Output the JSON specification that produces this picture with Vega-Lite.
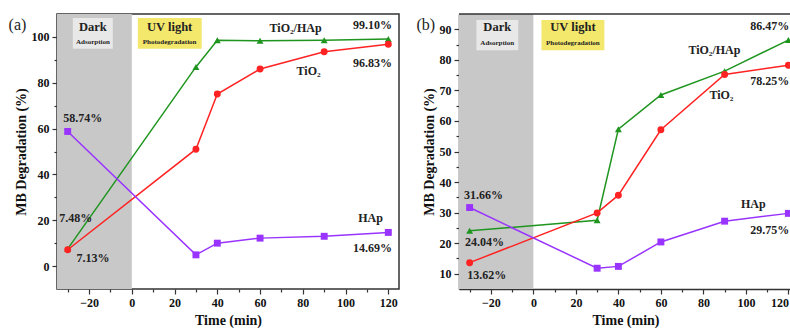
{
  "$schema": "https://vega.github.io/schema/vega-lite/v6.json",
  "padding": {"left": 7, "top": 13, "right": 0, "bottom": 0},
  "bounds": "flush",
  "spacing": 60,
  "config": {
    "view": {"stroke": "#333", "strokeWidth": 1.5},
    "axis": {"grid": false, "domain": false, "labelFont": "Liberation Serif", "labelFontWeight": "bold", "labelFontSize": 12, "labelColor": "#111", "titleFont": "Liberation Serif", "titleFontSize": 14, "titleFontWeight": "bold", "titleColor": "#111", "tickColor": "#333", "tickWidth": 1.2, "labelPadding": 3, "domainColor": "#333", "domainWidth": 1.5},
    "text": {"font": "Liberation Serif"}
  },
  "datasets": {
    "a": [
      {"t": -30, "v": 7.48, "s": "TiO2/HAp"}, {"t": 30, "v": 86.9, "s": "TiO2/HAp"}, {"t": 40, "v": 98.5, "s": "TiO2/HAp"}, {"t": 60, "v": 98.3, "s": "TiO2/HAp"}, {"t": 90, "v": 98.5, "s": "TiO2/HAp"}, {"t": 120, "v": 99.1, "s": "TiO2/HAp"},
      {"t": -30, "v": 7.13, "s": "TiO2"}, {"t": 30, "v": 51.0, "s": "TiO2"}, {"t": 40, "v": 75.1, "s": "TiO2"}, {"t": 60, "v": 86.0, "s": "TiO2"}, {"t": 90, "v": 93.5, "s": "TiO2"}, {"t": 120, "v": 96.83, "s": "TiO2"},
      {"t": -30, "v": 58.74, "s": "HAp"}, {"t": 30, "v": 4.9, "s": "HAp"}, {"t": 40, "v": 10.0, "s": "HAp"}, {"t": 60, "v": 12.2, "s": "HAp"}, {"t": 90, "v": 13.0, "s": "HAp"}, {"t": 120, "v": 14.69, "s": "HAp"}
    ],
    "b": [
      {"t": -30, "v": 24.04, "s": "TiO2/HAp"}, {"t": 30, "v": 27.5, "s": "TiO2/HAp"}, {"t": 40, "v": 57.3, "s": "TiO2/HAp"}, {"t": 60, "v": 68.5, "s": "TiO2/HAp"}, {"t": 90, "v": 76.3, "s": "TiO2/HAp"}, {"t": 120, "v": 86.47, "s": "TiO2/HAp"},
      {"t": -30, "v": 13.62, "s": "TiO2"}, {"t": 30, "v": 29.9, "s": "TiO2"}, {"t": 40, "v": 35.7, "s": "TiO2"}, {"t": 60, "v": 57.1, "s": "TiO2"}, {"t": 90, "v": 75.2, "s": "TiO2"}, {"t": 120, "v": 78.25, "s": "TiO2"},
      {"t": -30, "v": 31.66, "s": "HAp"}, {"t": 30, "v": 11.8, "s": "HAp"}, {"t": 40, "v": 12.4, "s": "HAp"}, {"t": 60, "v": 20.4, "s": "HAp"}, {"t": 90, "v": 27.2, "s": "HAp"}, {"t": 120, "v": 29.75, "s": "HAp"}
    ],
    "a_dark": [{"x1": -35, "x2": 0, "y1": -10, "y2": 110}],
    "b_dark": [{"x1": -35, "x2": 0, "y1": 5, "y2": 95}],
    "a_box": [{"x1": -27.6, "x2": -8.9, "y1": 94.8, "y2": 108.3, "k": "dark"}, {"x1": 2.8, "x2": 32.7, "y1": 94.8, "y2": 108.3, "k": "uv"}],
    "b_box": [{"x1": -26.8, "x2": -7.1, "y1": 83.1, "y2": 93.0, "k": "dark"}, {"x1": 3.8, "x2": 33.4, "y1": 83.1, "y2": 93.0, "k": "uv"}],
    "a_big": [{"x": -18.2, "y": 104.2, "t": "Dark"}, {"x": 17.7, "y": 104.2, "t": "UV light"}],
    "a_small": [{"x": -18.2, "y": 97.6, "t": "Adsorption"}, {"x": 17.7, "y": 97.6, "t": "Photodegradation"}],
    "b_big": [{"x": -17.0, "y": 90.6, "t": "Dark"}, {"x": 18.6, "y": 90.6, "t": "UV light"}],
    "b_small": [{"x": -17.0, "y": 85.6, "t": "Adsorption"}, {"x": 18.6, "y": 85.6, "t": "Photodegradation"}],
    "a_lab": [
      {"x": 112.6, "y": 105.2, "t": "99.10%"}, {"x": 76.6, "y": 103.9, "t": "TiO₂/HAp"}, {"x": 82.7, "y": 85.2, "t": "TiO₂"}, {"x": 112.6, "y": 88.6, "t": "96.83%"},
      {"x": -22.9, "y": 64.6, "t": "58.74%"}, {"x": -26.2, "y": 20.9, "t": "7.48%"}, {"x": -18.2, "y": 3.5, "t": "7.13%"}, {"x": 111.7, "y": 20.9, "t": "HAp"}, {"x": 112.6, "y": 7.9, "t": "14.69%"}
    ],
    "b_lab": [
      {"x": 111.2, "y": 91.0, "t": "86.47%"}, {"x": 85.2, "y": 83.1, "t": "TiO₂/HAp"}, {"x": 88.5, "y": 68.6, "t": "TiO₂"}, {"x": 111.2, "y": 73.2, "t": "78.25%"},
      {"x": -23.5, "y": 35.7, "t": "31.66%"}, {"x": -23.0, "y": 20.3, "t": "24.04%"}, {"x": -22.0, "y": 9.7, "t": "13.62%"}, {"x": 103.5, "y": 32.8, "t": "HAp"}, {"x": 111.2, "y": 24.2, "t": "29.75%"}
    ],
    "a_id": [{"x": -53.5, "y": 105.2, "t": "(a)"}],
    "b_id": [{"x": -50.6, "y": 91.3, "t": "(b)"}],
    "b_top": [{"y": 95}]
  },
  "hconcat": [
    {
      "width": 342,
      "height": 275,
      "resolve": {"axis": {"x": "independent", "y": "independent"}},
      "layer": [
        {
          "data": {"name": "a_dark"},
          "mark": {"type": "rect", "color": "#c8c8c8"},
          "encoding": {
            "x": {"field": "x1", "type": "quantitative", "scale": {"domain": [-35, 125], "nice": false, "zero": false}, "axis": null},
            "x2": {"field": "x2"},
            "y": {"field": "y1", "type": "quantitative", "scale": {"domain": [-10, 110], "nice": false, "zero": false}, "axis": null},
            "y2": {"field": "y2"}
          }
        },
        {
          "data": {"name": "a_box"},
          "mark": {"type": "rect"},
          "encoding": {
            "x": {"field": "x1", "type": "quantitative", "scale": {"domain": [-35, 125], "nice": false, "zero": false}, "axis": null},
            "x2": {"field": "x2"},
            "y": {"field": "y1", "type": "quantitative", "scale": {"domain": [-10, 110], "nice": false, "zero": false}, "axis": null},
            "y2": {"field": "y2"},
            "fill": {"condition": {"test": "datum.k === 'uv'", "value": "#f4e86c"}, "value": "#e8e8e8"}
          }
        },
        {
          "data": {"name": "a_big"},
          "mark": {"type": "text", "fontSize": 12.5, "fontWeight": "bold", "color": "#222", "font": "Liberation Serif"},
          "encoding": {
            "x": {"field": "x", "type": "quantitative", "scale": {"domain": [-35, 125], "nice": false, "zero": false}, "axis": null},
            "y": {"field": "y", "type": "quantitative", "scale": {"domain": [-10, 110], "nice": false, "zero": false}, "axis": null},
            "text": {"field": "t"}
          }
        },
        {
          "data": {"name": "a_small"},
          "mark": {"type": "text", "fontSize": 7, "fontWeight": "bold", "color": "#222", "font": "Liberation Serif"},
          "encoding": {
            "x": {"field": "x", "type": "quantitative", "scale": {"domain": [-35, 125], "nice": false, "zero": false}, "axis": null},
            "y": {"field": "y", "type": "quantitative", "scale": {"domain": [-10, 110], "nice": false, "zero": false}, "axis": null},
            "text": {"field": "t"}
          }
        },
        {
          "data": {"name": "a"},
          "mark": {"type": "line", "strokeWidth": 1.5},
          "encoding": {
            "x": {"field": "t", "type": "quantitative", "scale": {"domain": [-35, 125], "nice": false, "zero": false},
              "axis": {"orient": "bottom", "title": "Time (min)", "values": [-20, 0, 20, 40, 60, 80, 100, 120], "tickSize": 5, "titlePadding": 5}},
            "y": {"field": "v", "type": "quantitative", "scale": {"domain": [-10, 110], "nice": false, "zero": false},
              "axis": {"orient": "left", "title": "MB Degradation (%)", "values": [0, 20, 40, 60, 80, 100], "tickSize": 5, "titlePadding": 3}},
            "color": {"field": "s", "type": "nominal", "scale": {"domain": ["HAp", "TiO2", "TiO2/HAp"], "range": ["#9933ff", "#ff2222", "#1f951f"]}, "legend": null}
          }
        },
        {
          "data": {"name": "a"},
          "mark": {"type": "point", "filled": true, "size": 48, "opacity": 1},
          "encoding": {
            "x": {"field": "t", "type": "quantitative", "scale": {"domain": [-35, 125], "nice": false, "zero": false},
              "axis": {"orient": "bottom", "title": null, "labels": false, "values": [-30, -10, 10, 30, 50, 70, 90, 110], "tickSize": 3}},
            "y": {"field": "v", "type": "quantitative", "scale": {"domain": [-10, 110], "nice": false, "zero": false},
              "axis": {"orient": "left", "title": null, "labels": false, "values": [10, 30, 50, 70, 90], "tickSize": 3}},
            "color": {"field": "s", "type": "nominal", "scale": {"domain": ["HAp", "TiO2", "TiO2/HAp"], "range": ["#9933ff", "#ff2222", "#1f951f"]}, "legend": null},
            "shape": {"field": "s", "type": "nominal", "scale": {"domain": ["HAp", "TiO2", "TiO2/HAp"], "range": ["square", "circle", "triangle-up"]}, "legend": null}
          }
        },
        {
          "data": {"name": "a_lab"},
          "mark": {"type": "text", "fontSize": 12, "fontWeight": "bold", "color": "#222", "font": "Liberation Serif"},
          "encoding": {
            "x": {"field": "x", "type": "quantitative", "scale": {"domain": [-35, 125], "nice": false, "zero": false}, "axis": null},
            "y": {"field": "y", "type": "quantitative", "scale": {"domain": [-10, 110], "nice": false, "zero": false}, "axis": null},
            "text": {"field": "t"}
          }
        },
        {
          "data": {"name": "a_id"},
          "mark": {"type": "text", "fontSize": 16, "color": "#222", "font": "Liberation Serif"},
          "encoding": {
            "x": {"field": "x", "type": "quantitative", "scale": {"domain": [-35, 125], "nice": false, "zero": false}, "axis": null},
            "y": {"field": "y", "type": "quantitative", "scale": {"domain": [-10, 110], "nice": false, "zero": false}, "axis": null},
            "text": {"field": "t"}
          }
        }
      ]
    },
    {
      "width": 333,
      "height": 275,
      "view": {"stroke": null},
      "resolve": {"axis": {"x": "independent", "y": "independent"}},
      "layer": [
        {
          "data": {"name": "b_dark"},
          "mark": {"type": "rect", "color": "#c8c8c8"},
          "encoding": {
            "x": {"field": "x1", "type": "quantitative", "scale": {"domain": [-35, 121.7], "nice": false, "zero": false}, "axis": null},
            "x2": {"field": "x2"},
            "y": {"field": "y1", "type": "quantitative", "scale": {"domain": [5, 95], "nice": false, "zero": false}, "axis": null},
            "y2": {"field": "y2"}
          }
        },
        {
          "data": {"name": "b_box"},
          "mark": {"type": "rect"},
          "encoding": {
            "x": {"field": "x1", "type": "quantitative", "scale": {"domain": [-35, 121.7], "nice": false, "zero": false}, "axis": null},
            "x2": {"field": "x2"},
            "y": {"field": "y1", "type": "quantitative", "scale": {"domain": [5, 95], "nice": false, "zero": false}, "axis": null},
            "y2": {"field": "y2"},
            "fill": {"condition": {"test": "datum.k === 'uv'", "value": "#f4e86c"}, "value": "#e8e8e8"}
          }
        },
        {
          "data": {"name": "b_big"},
          "mark": {"type": "text", "fontSize": 12.5, "fontWeight": "bold", "color": "#222", "font": "Liberation Serif"},
          "encoding": {
            "x": {"field": "x", "type": "quantitative", "scale": {"domain": [-35, 121.7], "nice": false, "zero": false}, "axis": null},
            "y": {"field": "y", "type": "quantitative", "scale": {"domain": [5, 95], "nice": false, "zero": false}, "axis": null},
            "text": {"field": "t"}
          }
        },
        {
          "data": {"name": "b_small"},
          "mark": {"type": "text", "fontSize": 7, "fontWeight": "bold", "color": "#222", "font": "Liberation Serif"},
          "encoding": {
            "x": {"field": "x", "type": "quantitative", "scale": {"domain": [-35, 121.7], "nice": false, "zero": false}, "axis": null},
            "y": {"field": "y", "type": "quantitative", "scale": {"domain": [5, 95], "nice": false, "zero": false}, "axis": null},
            "text": {"field": "t"}
          }
        },
        {
          "data": {"name": "b_top"},
          "mark": {"type": "rule", "color": "#333", "strokeWidth": 1.5},
          "encoding": {
            "y": {"field": "y", "type": "quantitative", "scale": {"domain": [5, 95], "nice": false, "zero": false}, "axis": null}
          }
        },
        {
          "data": {"name": "b"},
          "mark": {"type": "line", "strokeWidth": 1.5},
          "encoding": {
            "x": {"field": "t", "type": "quantitative", "scale": {"domain": [-35, 121.7], "nice": false, "zero": false},
              "axis": {"orient": "bottom", "title": "Time (min)", "domain": true, "values": [-20, 0, 20, 40, 60, 80, 100, 120], "tickSize": 5, "titlePadding": 5, "labelAlign": {"condition": {"test": "datum.value === 120", "value": "right"}, "value": "center"}}},
            "y": {"field": "v", "type": "quantitative", "scale": {"domain": [5, 95], "nice": false, "zero": false},
              "axis": {"orient": "left", "title": "MB Degradation (%)", "domain": true, "values": [10, 20, 30, 40, 50, 60, 70, 80, 90], "tickSize": 5, "titlePadding": 3}},
            "color": {"field": "s", "type": "nominal", "scale": {"domain": ["HAp", "TiO2", "TiO2/HAp"], "range": ["#9933ff", "#ff2222", "#1f951f"]}, "legend": null}
          }
        },
        {
          "data": {"name": "b"},
          "mark": {"type": "point", "filled": true, "size": 48, "opacity": 1},
          "encoding": {
            "x": {"field": "t", "type": "quantitative", "scale": {"domain": [-35, 121.7], "nice": false, "zero": false},
              "axis": {"orient": "bottom", "title": null, "labels": false, "values": [-30, -10, 10, 30, 50, 70, 90, 110], "tickSize": 3}},
            "y": {"field": "v", "type": "quantitative", "scale": {"domain": [5, 95], "nice": false, "zero": false},
              "axis": {"orient": "left", "title": null, "labels": false, "values": [15, 25, 35, 45, 55, 65, 75, 85], "tickSize": 3}},
            "color": {"field": "s", "type": "nominal", "scale": {"domain": ["HAp", "TiO2", "TiO2/HAp"], "range": ["#9933ff", "#ff2222", "#1f951f"]}, "legend": null},
            "shape": {"field": "s", "type": "nominal", "scale": {"domain": ["HAp", "TiO2", "TiO2/HAp"], "range": ["square", "circle", "triangle-up"]}, "legend": null}
          }
        },
        {
          "data": {"name": "b_lab"},
          "mark": {"type": "text", "fontSize": 12, "fontWeight": "bold", "color": "#222", "font": "Liberation Serif"},
          "encoding": {
            "x": {"field": "x", "type": "quantitative", "scale": {"domain": [-35, 121.7], "nice": false, "zero": false}, "axis": null},
            "y": {"field": "y", "type": "quantitative", "scale": {"domain": [5, 95], "nice": false, "zero": false}, "axis": null},
            "text": {"field": "t"}
          }
        },
        {
          "data": {"name": "b_id"},
          "mark": {"type": "text", "fontSize": 16, "color": "#222", "font": "Liberation Serif"},
          "encoding": {
            "x": {"field": "x", "type": "quantitative", "scale": {"domain": [-35, 121.7], "nice": false, "zero": false}, "axis": null},
            "y": {"field": "y", "type": "quantitative", "scale": {"domain": [5, 95], "nice": false, "zero": false}, "axis": null},
            "text": {"field": "t"}
          }
        }
      ]
    }
  ]
}
